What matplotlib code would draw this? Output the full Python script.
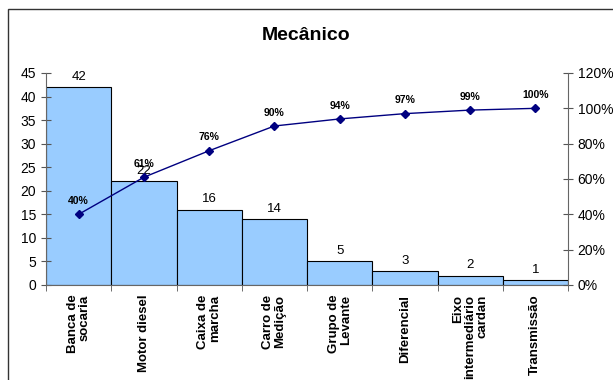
import matplotlib.pyplot as plt
import matplotlib.patches as mpatches
import numpy as np

plt.rcParams['font.family'] = ['Liberation Sans', 'DejaVu Sans']

# dados do gráfico de Pareto
categorias = ["Banca de\nsocaria", "Motor diesel", "Caixa de\nmarcha", "Carro de\nMedição",
              "Grupo de\nLevante", "Diferencial", "Eixo\nintermediário\ncardan", "Transmissão"]
ocorrencias = [42, 22, 16, 14, 5, 3, 2, 1]
acumulado = [40, 61, 76, 90, 94, 97, 99, 100]

fig = plt.figure(figsize=(6.13, 3.8), dpi=100)
ax = fig.add_axes([46 / 613, 1 - 285 / 380, (568 - 46) / 613, (285 - 73) / 380])

# borda da área do gráfico
fig.patches.append(mpatches.Rectangle((8 / 613, -0.1), 1.2, 1.1 - 9 / 380, transform=fig.transFigure,
                                      fill=False, edgecolor='#333333', linewidth=1.0))

x = np.arange(len(categorias))
ax.bar(x, ocorrencias, width=1.0, color='#99CCFF', edgecolor='black', linewidth=0.8, align='center')
for xi, v in zip(x, ocorrencias):
    ax.annotate(str(v), (xi, v), xytext=(0, 3), textcoords='offset points',
                ha='center', va='bottom', fontsize=9.5)

ax.set_xlim(-0.5, len(categorias) - 0.5)
ax.set_ylim(0, 45)
ax.set_yticks(np.arange(0, 46, 5))
ax.set_xticks(x)
ax.set_xticklabels(categorias, rotation=90, fontsize=9.5, fontweight='bold', va='top', ha='center',
                   multialignment='right', linespacing=1.0)
ax.set_xticks(np.arange(-0.5, len(categorias)), minor=True)
ax.tick_params(axis='x', which='major', length=0, pad=7)
ax.tick_params(axis='x', which='minor', length=4, direction='out', color='#555555')
ax.tick_params(axis='y', direction='inout', length=7, labelsize=10, color='#555555')
for s in ['top', 'right']:
    ax.spines[s].set_visible(False)
for s in ['left', 'bottom']:
    ax.spines[s].set_color('#666666')

ax2 = ax.twinx()
ax2.plot(x, acumulado, color='#000080', marker='D', markersize=4, linewidth=1)
for xi, p in zip(x, acumulado):
    ax2.annotate(f"{p}%", (xi, p), xytext=(0, 6), textcoords='offset points',
                 ha='center', va='bottom', fontsize=7.5, fontweight='bold')
ax2.set_ylim(0, 120)
ax2.set_yticks(np.arange(0, 121, 20))
ax2.set_yticklabels([f"{t}%" for t in range(0, 121, 20)])
ax2.tick_params(axis='y', direction='inout', length=7, labelsize=10, color='#555555')
for s in ['top', 'left', 'bottom']:
    ax2.spines[s].set_visible(False)
ax2.spines['right'].set_color('#666666')

fig.text(0.5, 1 - 36 / 380, "Mecânico", ha='center', va='center', fontsize=14, fontweight='bold')

plt.savefig("out.png", dpi=100)
